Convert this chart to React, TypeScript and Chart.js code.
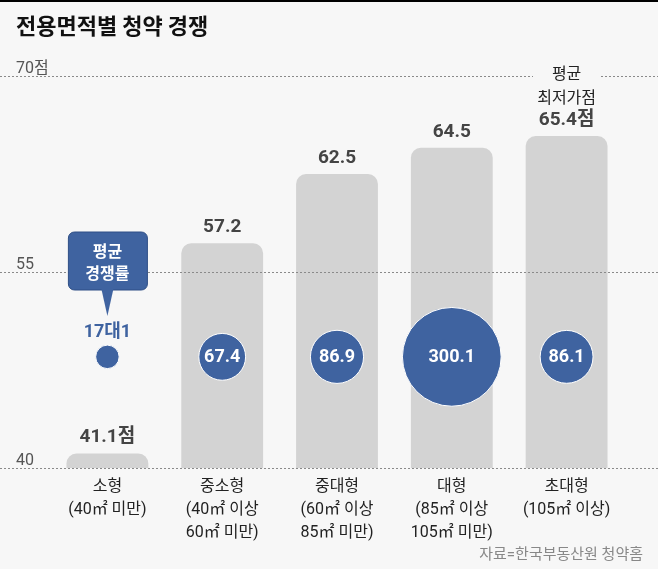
import { useEffect, useRef } from 'react';
import { Chart, registerables } from 'chart.js';

Chart.register(...registerables);

const CATEGORIES = [
  ['소형', '(40㎡ 미만)'],
  ['중소형', '(40㎡ 이상', '60㎡ 미만)'],
  ['중대형', '(60㎡ 이상', '85㎡ 미만)'],
  ['대형', '(85㎡ 이상', '105㎡ 미만)'],
  ['초대형', '(105㎡ 이상)'],
];
const MIN_SCORES = [41.1, 57.2, 62.5, 64.5, 65.4];
const SCORE_LABELS = ['41.1점', '57.2', '62.5', '64.5', '65.4점'];
const COMPETITION_RATES = [17, 67.4, 86.9, 300.1, 86.1];
const RATE_LABELS = ['17대1', '67.4', '86.9', '300.1', '86.1'];
const Y_TICKS = [40, 55, 70];
const Y_TICK_LABELS = ['40', '55', '70점'];

const W = 658;
const H = 569;
const BLUE = '#3f63a0';
const BUBBLE_Y = 48.5;
const FONT = "Roboto, 'Noto Sans CJK KR', sans-serif";
const KR = "'Noto Sans CJK KR', sans-serif";

const overlay = {
  id: 'overlay',
  beforeDraw(chart: any) {
    const { ctx } = chart;
    ctx.save();
    ctx.fillStyle = '#f7f7f7';
    ctx.fillRect(0, 0, W, H);
    ctx.fillStyle = '#000';
    ctx.fillRect(0, 0, W, 2);
    ctx.fillStyle = '#111';
    ctx.font = `bold 22px ${KR}`;
    ctx.textBaseline = 'middle';
    ctx.fillText('전용면적별 청약 경쟁', 16, 26);
    ctx.restore();
  },
  afterDatasetsDraw(chart: any) {
    const { ctx, scales } = chart;
    const y = scales.y;
    ctx.save();
    // dotted grid lines
    ctx.strokeStyle = '#8a8a8a';
    ctx.lineWidth = 1;
    Y_TICKS.forEach((v, i) => {
      const py = Math.round(y.getPixelForValue(v)) + 0.5;
      ctx.setLineDash([2, 2]);
      ctx.beginPath();
      if (v === 70) {
        ctx.moveTo(0, py);
        ctx.lineTo(533, py);
        ctx.moveTo(601, py);
        ctx.lineTo(W, py);
      } else {
        ctx.moveTo(0, py);
        ctx.lineTo(W, py);
      }
      ctx.stroke();
      ctx.setLineDash([]);
      ctx.fillStyle = '#555';
      ctx.font = `16px ${FONT}`;
      ctx.textBaseline = 'alphabetic';
      ctx.textAlign = 'left';
      ctx.fillText(Y_TICK_LABELS[i], 16, py - 4);
    });

    // score labels above bars
    const bars = chart.getDatasetMeta(0).data;
    ctx.textAlign = 'center';
    ctx.textBaseline = 'middle';
    ctx.fillStyle = '#444';
    ctx.font = `bold 19px ${FONT}`;
    bars.forEach((b: any, i: number) => {
      ctx.fillText(SCORE_LABELS[i], b.x, b.y - 16);
    });

    // label for the last bar
    const last = bars[bars.length - 1];
    ctx.fillStyle = '#222';
    ctx.font = `16px ${KR}`;
    ctx.fillText('평균', last.x, 73);
    ctx.fillText('최저가점', last.x, 97);

    // bubble labels
    const pts = chart.getDatasetMeta(1).data;
    pts.forEach((p: any, i: number) => {
      ctx.font = `bold 18px ${FONT}`;
      if (i === 0) {
        ctx.fillStyle = BLUE;
        ctx.fillText(RATE_LABELS[i], p.x, 332);
      } else {
        ctx.fillStyle = '#fff';
        ctx.fillText(RATE_LABELS[i], p.x, p.y + 1);
      }
    });

    // callout
    const cx = pts[0].x;
    const bx = cx - 39;
    const by = 232;
    const bw = 79;
    const bh = 58;
    ctx.fillStyle = BLUE;
    ctx.strokeStyle = '#2f4f86';
    ctx.lineWidth = 1;
    ctx.beginPath();
    ctx.roundRect(bx, by, bw, bh, 6);
    ctx.fill();
    ctx.stroke();
    ctx.beginPath();
    ctx.moveTo(cx - 6, by + bh - 1);
    ctx.lineTo(cx, 316);
    ctx.lineTo(cx + 6, by + bh - 1);
    ctx.closePath();
    ctx.fill();
    ctx.fillStyle = '#fff';
    ctx.font = `bold 16px ${KR}`;
    ctx.fillText('평균', cx, 251);
    ctx.fillText('경쟁률', cx, 273);

    // source
    ctx.textAlign = 'right';
    ctx.fillStyle = '#888';
    ctx.font = `15px ${FONT}`;
    ctx.fillText('자료=한국부동산원 청약홈', 643, 555);
    ctx.restore();
  },
};

export default function App() {
  const canvasRef = useRef<HTMLCanvasElement>(null);
  const chartRef = useRef<Chart | null>(null);

  useEffect(() => {
    document.body.style.margin = '0';
    document.body.style.background = '#f7f7f7';
    if (!canvasRef.current) return;
    if (chartRef.current) chartRef.current.destroy();

    chartRef.current = new Chart(canvasRef.current, {
      type: 'bar',
      data: {
        labels: CATEGORIES,
        datasets: [
          {
            type: 'bar',
            data: MIN_SCORES,
            backgroundColor: '#d3d3d3',
            borderRadius: { topLeft: 10, topRight: 10, bottomLeft: 0, bottomRight: 0 },
            borderSkipped: false,
            barPercentage: 0.713,
            categoryPercentage: 1,
            order: 2,
          },
          {
            type: 'line',
            data: COMPETITION_RATES.map(() => BUBBLE_Y),
            showLine: false,
            pointRadius: (c: any) => 2.85 * Math.sqrt(COMPETITION_RATES[c.dataIndex]),
            pointHoverRadius: (c: any) => 2.85 * Math.sqrt(COMPETITION_RATES[c.dataIndex]),
            pointBackgroundColor: BLUE,
            pointBorderColor: '#ffffff',
            pointBorderWidth: 1,
            order: 1,
          } as any,
        ],
      },
      options: {
        responsive: false,
        animation: false,
        layout: { padding: { left: 50, right: 34, top: 76, bottom: 16 } },
        plugins: {
          legend: { display: false },
          tooltip: { enabled: false },
        },
        scales: {
          x: {
            offset: true,
            grid: { display: false, drawTicks: false },
            border: { display: false },
            ticks: {
              color: '#222',
              font: { size: 16, family: FONT, lineHeight: 1.44 },
              padding: 8,
              maxRotation: 0,
              autoSkip: false,
            },
          },
          y: {
            display: false,
            min: 40,
            max: 70,
          },
        },
      },
      plugins: [overlay],
    });

    return () => {
      if (chartRef.current) {
        chartRef.current.destroy();
        chartRef.current = null;
      }
    };
  }, []);

  return <canvas ref={canvasRef} width={W} height={H} style={{ display: 'block' }}></canvas>;
}
